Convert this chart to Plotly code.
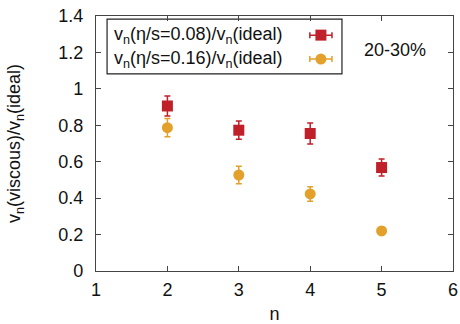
import plotly.graph_objects as go

# Harmonic order n and viscous/ideal flow ratios, 20-30% centrality
n = [2, 3, 4, 5]
ratio_008 = [0.906, 0.773, 0.755, 0.568]
err_008 = [0.055, 0.05, 0.058, 0.047]
ratio_016 = [0.787, 0.527, 0.423, 0.22]
err_016 = [0.05, 0.048, 0.04, 0.02]

label_008 = "v<sub>n</sub>(η/s=0.08)/v<sub>n</sub>(ideal)"
label_016 = "v<sub>n</sub>(η/s=0.16)/v<sub>n</sub>(ideal)"

RED = "#c0202a"
ORANGE = "#e3a02a"
FONT = "Liberation Sans, Arial, sans-serif"
FS = 18

fig = go.Figure()

fig.add_trace(go.Scatter(
    x=n, y=ratio_008, mode="markers",
    marker=dict(symbol="square", size=11, color=RED),
    error_y=dict(type="data", array=err_008, color=RED, thickness=1.5, width=3),
    showlegend=False,
))
fig.add_trace(go.Scatter(
    x=n, y=ratio_016, mode="markers",
    marker=dict(symbol="circle", size=11, color=ORANGE),
    error_y=dict(type="data", array=err_016, color=ORANGE, thickness=1.5, width=3),
    showlegend=False,
))

# Key samples (gnuplot style: text left, symbol right), drawn on a unit overlay axis
key_x = [0.63]
fig.add_trace(go.Scatter(
    x=key_x, y=[0.925], xaxis="x2", yaxis="y2", mode="markers",
    marker=dict(symbol="square", size=11, color=RED),
    error_x=dict(type="constant", value=0.031, color=RED, thickness=1.5, width=3),
    showlegend=False, hoverinfo="skip",
))
fig.add_trace(go.Scatter(
    x=key_x, y=[0.831], xaxis="x2", yaxis="y2", mode="markers",
    marker=dict(symbol="circle", size=11, color=ORANGE),
    error_x=dict(type="constant", value=0.031, color=ORANGE, thickness=1.5, width=3),
    showlegend=False, hoverinfo="skip",
))

axis_common = dict(
    showgrid=False, zeroline=False, showline=True, mirror="allticks",
    linecolor="#444444", linewidth=1.2, ticks="inside", ticklen=5, automargin=False,
    tickcolor="#444444", tickfont=dict(family=FONT, size=FS, color="#111111"),
)

fig.update_layout(
    width=460, height=324,
    margin=dict(l=96, r=7, t=16, b=53),
    paper_bgcolor="white", plot_bgcolor="white",
    xaxis=dict(range=[1, 6], tickvals=[1, 2, 3, 4, 5, 6], ticklabelstandoff=2,
               title=dict(text="n", font=dict(family=FONT, size=FS, color="#111111"), standoff=15),
               **axis_common),
    yaxis=dict(range=[0, 1.4], tickvals=[0, 0.2, 0.4, 0.6, 0.8, 1, 1.2, 1.4],
               ticktext=["0", "0.2", "0.4", "0.6", "0.8", "1", "1.2", "1.4"],
               ticklabelstandoff=8,
               title=dict(text="v<sub>n</sub>(viscous)/v<sub>n</sub>(ideal)",
                          font=dict(family=FONT, size=FS, color="#111111"), standoff=32),
               **axis_common),
    xaxis2=dict(range=[0, 1], overlaying="x", visible=False, fixedrange=True),
    yaxis2=dict(range=[0, 1], overlaying="y", visible=False, fixedrange=True),
    shapes=[dict(type="rect", xref="paper", yref="paper",
                 x0=0.031, x1=0.689, y0=0.773, y1=0.988,
                 line=dict(color="#222222", width=1.2), fillcolor="white", layer="below")],
    annotations=[
        dict(text=label_008, xref="paper", yref="paper", x=0.045, y=0.925,
             xanchor="left", yanchor="middle", showarrow=False,
             font=dict(family=FONT, size=FS, color="#111111")),
        dict(text=label_016, xref="paper", yref="paper", x=0.045, y=0.831,
             xanchor="left", yanchor="middle", showarrow=False,
             font=dict(family=FONT, size=FS, color="#111111")),
        dict(text="20-30%", xref="paper", yref="paper", x=0.838, y=0.867,
             xanchor="center", yanchor="middle", showarrow=False,
             font=dict(family=FONT, size=FS, color="#111111")),
    ],
)

fig.write_html("out.html")
